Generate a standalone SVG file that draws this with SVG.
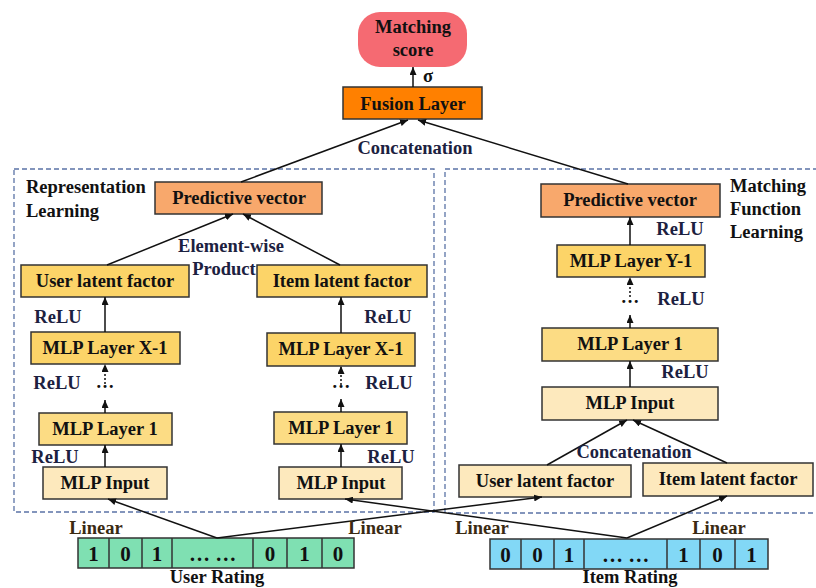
<svg xmlns="http://www.w3.org/2000/svg" width="816" height="588" viewBox="0 0 816 588">
<defs>
<marker id="ah" markerUnits="userSpaceOnUse" markerWidth="8" markerHeight="7" refX="8" refY="3.5" orient="auto">
<path d="M0,0 L8,3.5 L0,7 z" fill="#111"/>
</marker>
<style>
text{font-family:"Liberation Serif","Times New Roman",serif;font-weight:bold;font-size:18.5px;fill:#111}
.c{text-anchor:middle}
.lbl{fill:#1c2140}
.lin{fill:#3a2a12}
.box{stroke:#333;stroke-width:1.5}
.gold{fill:#fcd468}
.gold2{fill:#fcdc84}
.light{fill:#fde9bd}
.pred{fill:#f8a86c}
.dash{fill:none;stroke:#5b73a6;stroke-width:1.3;stroke-dasharray:5,3}
.con line{stroke:#111;stroke-width:1.5;marker-end:url(#ah)}
.dig{font-size:21px}
</style>
</defs>
<rect width="816" height="588" fill="#fff"/>

<g id="panels">
<rect class="dash" x="14" y="169" width="420" height="343"/>
<rect class="dash" x="445" y="169" width="380" height="344"/>
</g>

<g id="matching-score">
<rect x="358" y="12" width="109" height="55" rx="22" fill="#f56a72"/>
<text class="c" x="413" y="33" font-size="20">Matching</text>
<text class="c" x="413" y="56" font-size="20">score</text>
</g>
<g id="fusion-layer">
<rect class="box" x="343" y="87" width="139" height="32" fill="#ff8000"/>
<text class="c" x="413" y="110">Fusion Layer</text>
</g>

<g id="rep-label">
<text x="26" y="193">Representation</text>
<text x="26" y="217">Learning</text>
</g>
<g id="mf-label">
<text x="730" y="192">Matching</text>
<text x="730" y="215">Function</text>
<text x="730" y="238">Learning</text>
</g>

<g id="pred-left"><rect class="box pred" x="155" y="182" width="167" height="32"/><text class="c" x="239" y="204">Predictive vector</text></g>
<g id="user-latent-left"><rect class="box gold" x="21" y="265" width="168" height="32"/><text class="c" x="105" y="287">User latent factor</text></g>
<g id="item-latent-left"><rect class="box gold" x="257" y="265" width="170" height="32"/><text class="c" x="342" y="287">Item latent factor</text></g>
<g id="mlp-x1-left"><rect class="box gold" x="31" y="332" width="149" height="32"/><text class="c" x="105" y="354">MLP Layer X-1</text></g>
<g id="mlp-x1-right"><rect class="box gold" x="267" y="333" width="148" height="33"/><text class="c" x="341" y="355">MLP Layer X-1</text></g>
<g id="mlp-1-left"><rect class="box gold2" x="39" y="413" width="133" height="32"/><text class="c" x="105" y="435">MLP Layer 1</text></g>
<g id="mlp-1-right"><rect class="box gold2" x="274" y="412" width="133" height="32"/><text class="c" x="341" y="434">MLP Layer 1</text></g>
<g id="mlp-input-left"><rect class="box light" x="43" y="467" width="124" height="32"/><text class="c" x="105" y="489">MLP Input</text></g>
<g id="mlp-input-right"><rect class="box light" x="279" y="467" width="123" height="32"/><text class="c" x="341" y="489">MLP Input</text></g>

<g id="pred-right"><rect class="box pred" x="541" y="184" width="179" height="33"/><text class="c" x="630" y="206">Predictive vector</text></g>
<g id="mlp-y1"><rect class="box gold" x="557" y="245" width="148" height="32"/><text class="c" x="631" y="267">MLP Layer Y-1</text></g>
<g id="mlp-1-mf"><rect class="box gold2" x="542" y="328" width="176" height="33"/><text class="c" x="630" y="350">MLP Layer 1</text></g>
<g id="mlp-input-mf"><rect class="box light" x="542" y="387" width="176" height="33"/><text class="c" x="630" y="409">MLP Input</text></g>
<g id="user-latent-mf"><rect class="box light" x="459" y="465" width="172" height="32"/><text class="c" x="545" y="487">User latent factor</text></g>
<g id="item-latent-mf"><rect class="box light" x="643" y="463" width="170" height="33"/><text class="c" x="728" y="485">Item latent factor</text></g>

<g id="user-rating">
<rect class="box" x="78" y="538" width="276" height="30" fill="#7fe0b2"/>
<g stroke="#333" stroke-width="1.5">
<line x1="109" y1="538" x2="109" y2="568"/><line x1="142" y1="538" x2="142" y2="568"/><line x1="172" y1="538" x2="172" y2="568"/>
<line x1="253" y1="538" x2="253" y2="568"/><line x1="287" y1="538" x2="287" y2="568"/><line x1="322" y1="538" x2="322" y2="568"/>
</g>
<text class="c dig" x="93.5" y="561">1</text><text class="c dig" x="125.5" y="561">0</text><text class="c dig" x="157" y="561">1</text>
<text class="c dig" x="212.5" y="561">… …</text><text class="c dig" x="270" y="561">0</text><text class="c dig" x="304.5" y="561">1</text><text class="c dig" x="338" y="561">0</text>
<text class="c" x="217" y="583">User Rating</text>
</g>
<g id="item-rating">
<rect class="box" x="490" y="539" width="278" height="30" fill="#82d8f6"/>
<g stroke="#333" stroke-width="1.5">
<line x1="521" y1="539" x2="521" y2="569"/><line x1="554" y1="539" x2="554" y2="569"/><line x1="584" y1="539" x2="584" y2="569"/>
<line x1="667" y1="539" x2="667" y2="569"/><line x1="700" y1="539" x2="700" y2="569"/><line x1="735" y1="539" x2="735" y2="569"/>
</g>
<text class="c dig" x="505.5" y="562">0</text><text class="c dig" x="537.5" y="562">0</text><text class="c dig" x="569" y="562">1</text>
<text class="c dig" x="625.5" y="562">… …</text><text class="c dig" x="683.5" y="562">1</text><text class="c dig" x="717.5" y="562">0</text><text class="c dig" x="751.5" y="562">1</text>
<text class="c" x="630" y="583">Item Rating</text>
</g>

<g class="con" id="connectors">
<line x1="413" y1="87" x2="413" y2="67"/>
<line x1="241" y1="182" x2="408" y2="120"/>
<line x1="628" y1="184" x2="418" y2="120"/>
<line x1="107" y1="265" x2="233" y2="214"/>
<line x1="340" y1="265" x2="243" y2="214"/>
<line x1="105" y1="332" x2="105" y2="297"/>
<line x1="341" y1="333" x2="341" y2="297"/>
<line x1="105" y1="384" x2="105" y2="364" stroke-dasharray="2,2"/>
<line x1="341" y1="385" x2="341" y2="366" stroke-dasharray="2,2"/>
<line x1="105" y1="413" x2="105" y2="400"/>
<line x1="341" y1="412" x2="341" y2="399"/>
<line x1="105" y1="467" x2="105" y2="445"/>
<line x1="341" y1="467" x2="341" y2="444"/>
<line x1="217" y1="538" x2="108" y2="499"/>
<line x1="217" y1="538" x2="542" y2="497"/>
<line x1="627" y1="538" x2="345" y2="499"/>
<line x1="627" y1="538" x2="727" y2="496"/>
<line x1="630" y1="245" x2="630" y2="217"/>
<line x1="630" y1="297" x2="630" y2="277" stroke-dasharray="2,2"/>
<line x1="630" y1="328" x2="630" y2="315"/>
<line x1="630" y1="387" x2="630" y2="361"/>
<line x1="547" y1="465" x2="627" y2="420"/>
<line x1="727" y1="463" x2="633" y2="420"/>
</g>

<g id="labels">
<text class="c" x="428" y="82" font-size="21">σ</text>
<text class="c lbl" x="415" y="154">Concatenation</text>
<text class="c lbl" x="231" y="252">Element-wise</text>
<text class="c lbl" x="224" y="275">Product</text>
<text class="c lbl" x="58" y="323">ReLU</text>
<text class="c lbl" x="388" y="323">ReLU</text>
<text class="c lbl" x="57" y="389">ReLU</text>
<text class="c lbl" x="389" y="389">ReLU</text>
<text class="c" x="105" y="388">…</text>
<text class="c" x="341" y="388">…</text>
<text class="c lbl" x="55" y="463">ReLU</text>
<text class="c lbl" x="391" y="463">ReLU</text>
<text class="c lbl" x="680" y="235">ReLU</text>
<text class="c" x="630" y="303">…</text>
<text class="c lbl" x="681" y="305">ReLU</text>
<text class="c lbl" x="685" y="378">ReLU</text>
<text class="c lbl" x="634" y="458">Concatenation</text>
<text class="c lin" x="96" y="534">Linear</text>
<text class="c lin" x="375" y="534">Linear</text>
<text class="c lin" x="482" y="534">Linear</text>
<text class="c lin" x="719" y="534">Linear</text>
</g>
</svg>
